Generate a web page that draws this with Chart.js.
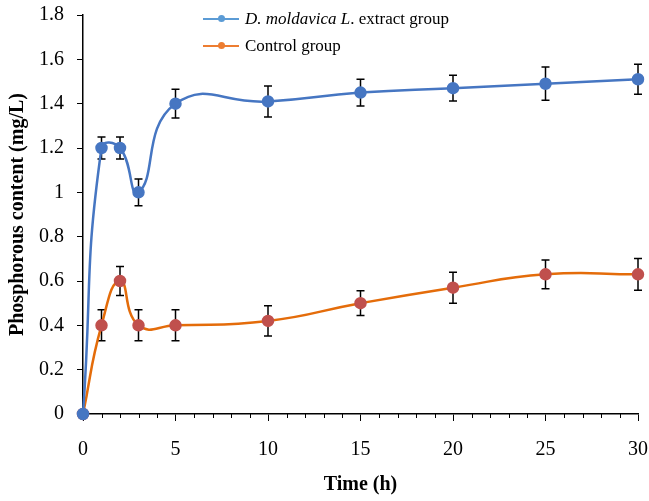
<!DOCTYPE html>
<html>
<head>
<meta charset="utf-8">
<script src="https://cdn.jsdelivr.net/npm/chart.js@4/dist/chart.umd.min.js"></script>
<style>
  html, body { margin: 0; padding: 0; background: #fff; }
  #wrap { position: relative; width: 649px; height: 501px; }
  canvas { display: block; }
  .legend { position: absolute; left: 203px; top: 0; font-family: "Liberation Serif", "Times New Roman", serif; font-size: 17px; color: #000; white-space: nowrap; }
  .legend .row { position: absolute; left: 0; height: 20px; display: flex; align-items: center; }
  .legend .sample { position: relative; width: 36px; height: 20px; margin-right: 6px; }
  .legend .sample .ln { position: absolute; left: 0; right: 0; top: 9px; height: 1.5px; }
  .legend .sample .mk { position: absolute; left: 15px; top: 6px; width: 7px; height: 7px; border-radius: 50%; }
</style>
</head>
<body>
<div id="wrap">
  <canvas id="c" width="649" height="501"></canvas>
  <div class="legend">
    <div class="row" style="top:9px;">
      <div class="sample"><div class="ln" style="background:#5b9bd5"></div><div class="mk" style="background:#5b9bd5"></div></div>
      <span><i>D. moldavica L</i>. extract group</span>
    </div>
    <div class="row" style="top:36px;">
      <div class="sample"><div class="ln" style="background:#ed7d31"></div><div class="mk" style="background:#ed7d31"></div></div>
      <span>Control group</span>
    </div>
  </div>
</div>
<script>
const times = [0, 1, 2, 3, 5, 10, 15, 20, 25, 30];
const extractValues = [0, 1.20, 1.20, 1.00, 1.40, 1.41, 1.45, 1.47, 1.49, 1.51];
const extractErrors = [0, 0.05, 0.05, 0.06, 0.065, 0.07, 0.06, 0.058, 0.075, 0.068];
const controlValues = [0, 0.40, 0.60, 0.40, 0.40, 0.42, 0.50, 0.57, 0.63, 0.63];
const controlErrors = [0, 0.07, 0.065, 0.07, 0.07, 0.068, 0.056, 0.07, 0.065, 0.072];
const xTickLabels = ['0', '5', '10', '15', '20', '25', '30'];
const yTickLabels = ['0', '0.2', '0.4', '0.6', '0.8', '1', '1.2', '1.4', '1.6', '1.8'];

const SERIF = '"Liberation Serif", "Times New Roman", serif';

function pts(xs, ys) { return xs.map((x, i) => ({ x: x, y: ys[i] })); }

const errorBarPlugin = {
  id: 'errorBars',
  beforeDatasetsDraw(chart) {
    const ctx = chart.ctx;
    const xs = chart.scales.x, ys = chart.scales.y;
    const sets = [[extractValues, extractErrors], [controlValues, controlErrors]];
    ctx.save();
    ctx.strokeStyle = '#000';
    ctx.lineWidth = 1.5;
    sets.forEach(([vals, errs]) => {
      times.forEach((t, i) => {
        if (!errs[i]) return;
        const px = xs.getPixelForValue(t);
        const top = ys.getPixelForValue(vals[i] + errs[i]);
        const bot = ys.getPixelForValue(vals[i] - errs[i]);
        ctx.beginPath();
        ctx.moveTo(px, top); ctx.lineTo(px, bot);
        ctx.moveTo(px - 4, top); ctx.lineTo(px + 4, top);
        ctx.moveTo(px - 4, bot); ctx.lineTo(px + 4, bot);
        ctx.stroke();
      });
    });
    ctx.restore();
  }
};

const minorTickPlugin = {
  id: 'minorTicks',
  afterDraw(chart) {
    const ctx = chart.ctx;
    const xs = chart.scales.x;
    const y0 = chart.chartArea.bottom;
    ctx.save();
    ctx.strokeStyle = '#000';
    ctx.lineWidth = 1;
    for (let v = xs.min; v <= xs.max; v += 1) {
      if (v % 5 === 0) continue;
      const px = Math.round(xs.getPixelForValue(v)) + 0.5;
      ctx.beginPath();
      ctx.moveTo(px, y0);
      ctx.lineTo(px, y0 + 4);
      ctx.stroke();
    }
    ctx.restore();
  }
};

new Chart(document.getElementById('c'), {
  type: 'line',
  data: {
    datasets: [
      {
        label: 'D. moldavica L. extract group',
        data: pts(times, extractValues),
        borderColor: '#4676c2',
        backgroundColor: '#4676c2',
        pointBackgroundColor: '#4676c2',
        pointBorderColor: '#4676c2',
        borderWidth: 2.5,
        pointRadius: 5,
        tension: 0.5,
        clip: false
      },
      {
        label: 'Control group',
        data: pts(times, controlValues),
        borderColor: '#e46c0a',
        backgroundColor: '#c0504d',
        pointBackgroundColor: '#c0504d',
        pointBorderColor: '#c0504d',
        borderWidth: 2.5,
        pointRadius: 5,
        tension: 0.5,
        clip: false
      }
    ]
  },
  options: {
    responsive: false,
    animation: false,
    layout: { padding: { top: 15, right: 11, left: 0, bottom: 0 } },
    plugins: { legend: { display: false }, tooltip: { enabled: false } },
    scales: {
      x: {
        type: 'linear',
        min: 0, max: 30,
        ticks: {
          stepSize: 5,
          color: '#000',
          font: { family: SERIF, size: 20 },
          padding: 17,
          maxRotation: 0,
          callback: (v) => xTickLabels.includes(String(v)) ? String(v) : ''
        },
        grid: { drawOnChartArea: false, drawTicks: true, tickLength: 7, color: '#000', lineWidth: 1 },
        border: { color: '#000', width: 1.5 },
        title: { display: true, text: 'Time (h)', color: '#000', font: { family: SERIF, size: 20, weight: 'bold' }, padding: { top: 5 } },
        afterFit: (s) => { s.height = 87; s.paddingLeft = 0; s.paddingRight = 0; }
      },
      y: {
        min: 0, max: 1.8,
        ticks: {
          stepSize: 0.2,
          color: '#000',
          font: { family: SERIF, size: 20 },
          padding: 13,
          callback: (v) => yTickLabels[Math.round(v / 0.2)]
        },
        grid: { drawOnChartArea: false, drawTicks: true, tickLength: 6, color: '#000', lineWidth: 1 },
        border: { color: '#000', width: 1.5 },
        title: { display: true, text: 'Phosphorous content (mg/L)', color: '#000', font: { family: SERIF, size: 20, weight: 'bold' }, padding: { top: 6, bottom: 0 } },
        afterFit: (s) => { s.width = 83; s.paddingTop = 0; s.paddingBottom = 0; }
      }
    }
  },
  plugins: [errorBarPlugin, minorTickPlugin]
});
</script>
</body>
</html>
